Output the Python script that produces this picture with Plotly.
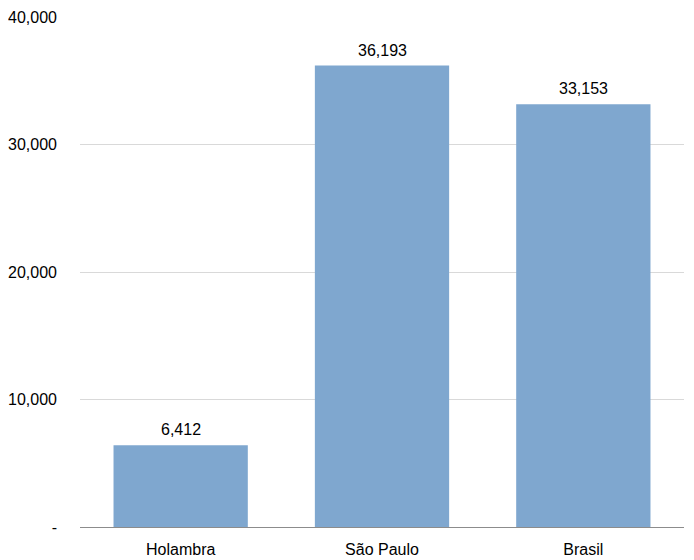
import plotly.graph_objects as go

categories = ["Holambra", "São Paulo", "Brasil"]
values = [6412, 36193, 33153]
tick_vals = [0, 10000, 20000, 30000, 40000]
tick_text = ["-", "10,000", "20,000", "30,000", "40,000"]

FONT = "Liberation Sans Narrow, Arial Narrow, Liberation Sans, Arial, sans-serif"

fig = go.Figure(go.Bar(
    x=categories, y=values,
    marker=dict(color="#7FA7CF", line=dict(width=0)),
    cliponaxis=False,
))

for c, v in zip(categories, values):
    fig.add_annotation(
        x=c, y=v, text=f"{v:,}", showarrow=False,
        yanchor="bottom", yshift=5,
        font=dict(family=FONT, size=16, color="#000000"),
    )

# page body has an 8px default margin, so the figure is sized/offset to compensate
fig.update_layout(
    width=686, height=552,
    margin=dict(l=72, r=10, t=9, b=33),
    paper_bgcolor="white", plot_bgcolor="white",
    bargap=0.333,
    showlegend=False,
    font=dict(family=FONT, size=16, color="#000000"),
    xaxis=dict(
        showline=True, linecolor="#8C8C8C", linewidth=1,
        showgrid=False, ticks="", tickfont=dict(family=FONT, size=16),
        ticklabelstandoff=8,
        automargin=False,
    ),
    yaxis=dict(
        range=[0, 40000], tickvals=tick_vals, ticktext=tick_text,
        showgrid=True, gridcolor="#D9D9D9", gridwidth=1,
        zeroline=False, showline=False, ticks="",
        ticklabelstandoff=22,
        tickfont=dict(family=FONT, size=16),
        automargin=False,
    ),
)

fig.write_html("out.html")
